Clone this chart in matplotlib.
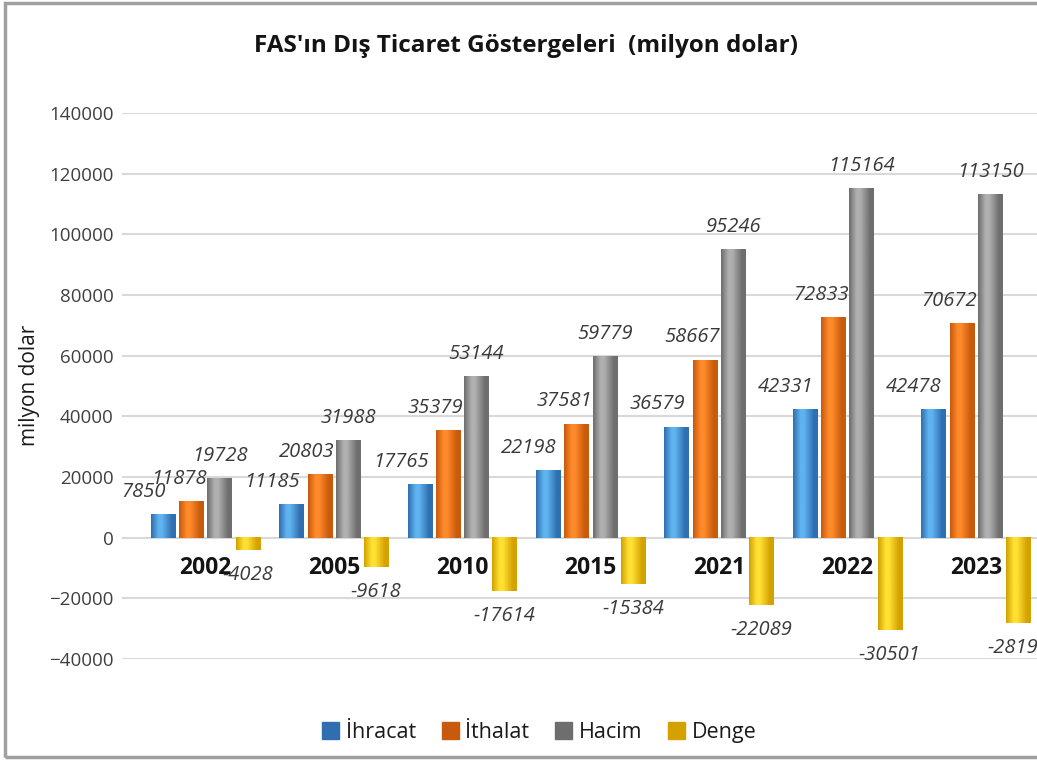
import numpy as np
import matplotlib
matplotlib.use("Agg")
import matplotlib.pyplot as plt
from matplotlib.patches import Rectangle, Patch
from matplotlib.colors import to_rgb

plt.rcParams['font.family'] = ['Open Sans', 'DejaVu Sans']

years = ['2002', '2005', '2010', '2015', '2021', '2022', '2023']
ihracat = [7850, 11185, 17765, 22198, 36579, 42331, 42478]
ithalat = [11878, 20803, 35379, 37581, 58667, 72833, 70672]
hacim = [19728, 31988, 53144, 59779, 95246, 115164, 113150]
denge = [-4028, -9618, -17614, -15384, -22089, -30501, -28194]

series = ['İhracat', 'İthalat', 'Hacim', 'Denge']
values = [ihracat, ithalat, hacim, denge]
# (light, dark) per series for the shaded bars
shades = [('#5FB3F0', '#2F6FB0'), ('#FF8A2A', '#C85A0C'),
          ('#B0B0B0', '#6E6E6E'), ('#FFE033', '#D4A200')]
label_dx = [-14, -9, 0, 0]

fig = plt.figure(figsize=(10.37, 7.60), dpi=100)
ax = fig.add_axes([0.1176, 0.1329, 0.8824, 0.7184])

x = np.arange(len(years))
step = 0.22
width = 0.19

for k, (name, vals) in enumerate(zip(series, values)):
    light, dark = shades[k]
    bars = ax.bar(x + (k - 1.5) * step, vals, width, color=dark, zorder=2)
    grad = np.array([to_rgb(dark), to_rgb(light), to_rgb(light), to_rgb(dark), to_rgb(dark)])
    t = np.linspace(0, 1, 40)
    cols = np.array([np.interp(t, [0, 0.3, 0.45, 0.85, 1], grad[:, c]) for c in range(3)]).T
    for b in bars:
        x0, w, h = b.get_x(), b.get_width(), b.get_height()
        ax.imshow(cols[np.newaxis, :, :], extent=(x0, x0 + w, min(0, h), max(0, h)),
                  aspect='auto', zorder=3, interpolation='bilinear')
    for b, v in zip(bars, vals):
        cx = b.get_x() + b.get_width() / 2
        if v >= 0:
            ax.annotate(str(v), (cx, v), xytext=(label_dx[k], 16), textcoords='offset points',
                        ha='center', va='center', fontsize=14.5, style='italic', color='#3A3A3A',
                        zorder=5)
        else:
            ax.annotate(str(v), (cx, v), xytext=(0, -18), textcoords='offset points',
                        ha='center', va='center', fontsize=14.5, style='italic', color='#3A3A3A',
                        zorder=5)

ax.set_xlim(-0.65, 6.476)
ax.set_ylim(-40000, 140000)
ax.set_yticks(np.arange(-40000, 140001, 20000))
ax.yaxis.grid(True, color='#D9D9D9', lw=1.5, zorder=0)
ax.set_axisbelow(True)
ax.tick_params(axis='y', length=0, labelsize=13.5, labelcolor='#404040', pad=6)

ax.spines['bottom'].set_position(('data', 0))
for s in ax.spines.values():
    s.set_visible(False)
ax.set_xticks(x)
ax.set_xticklabels(years, fontsize=16.5, fontweight='bold', color='#141414')
ax.tick_params(axis='x', length=0, pad=13)

fig.text(0.028, 0.493, 'milyon dolar', rotation=90, ha='center', va='center',
         fontsize=15, color='#1A1A1A')
fig.text(0.507, 0.94, "FAS'ın Dış Ticaret Göstergeleri  (milyon dolar)", ha='center',
         va='center', fontsize=17.5, fontweight='bold', color='#141414')

handles = [Patch(facecolor=shades[k][1], edgecolor=shades[k][1]) for k in range(4)]
fig.legend(handles, series, loc='center', bbox_to_anchor=(0.52, 0.036), ncol=4,
           frameon=False, fontsize=15.5, handlelength=0.8, handleheight=0.8,
           handletextpad=0.3, columnspacing=1.2, labelcolor='#1A1A1A')

fig.patches.append(Rectangle((0.005, 0.004), 1.2, 0.992, transform=fig.transFigure,
                             fill=False, edgecolor='#A0A0A0', lw=2.5))

fig.savefig('out.png', dpi=100)
